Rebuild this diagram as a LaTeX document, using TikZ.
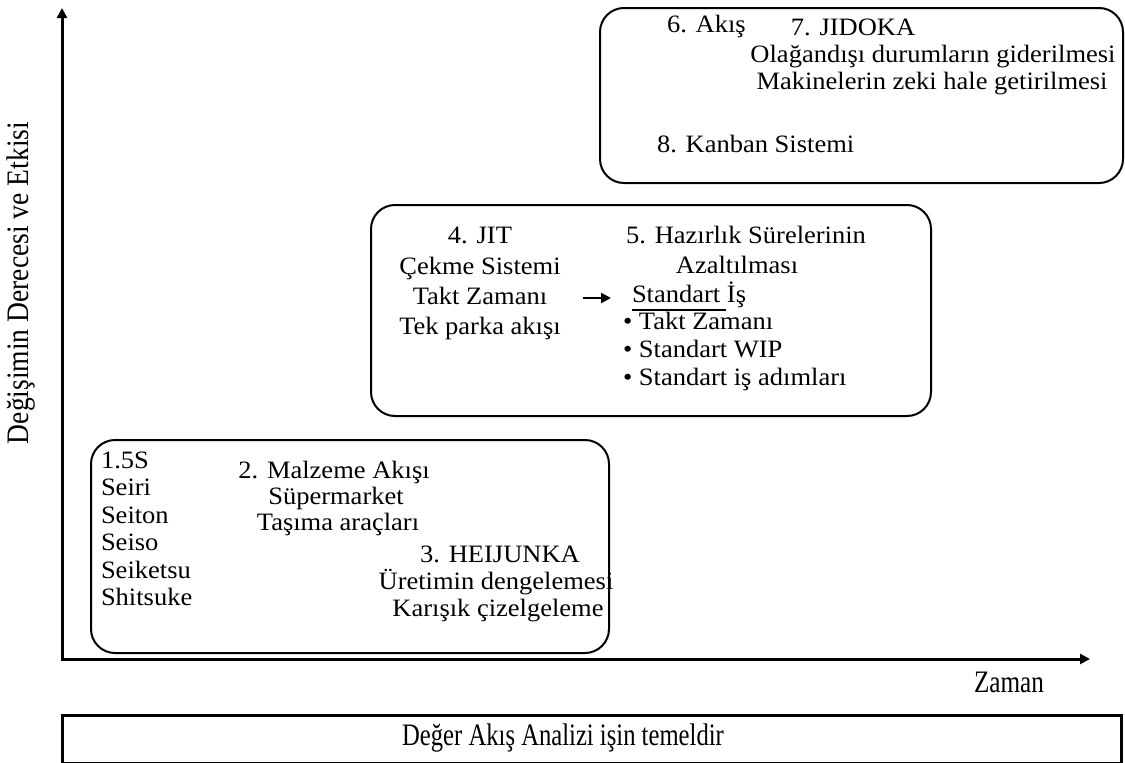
\documentclass[tikz,border=0pt]{standalone}
\usepackage{fontspec}
\setmainfont{Liberation Serif}[FakeStretch=1.06]
\usetikzlibrary{arrows.meta}
\begin{document}
\begin{tikzpicture}[x=1pt,y=-1pt,
  txt/.style={font=\fontsize{25}{29}\selectfont, inner sep=0pt, outer sep=0pt},
  lbl/.style={txt, anchor=base west},
  ctr/.style={txt, anchor=base},
  stage/.style={draw, line width=2pt, rounded corners=24pt, inner sep=0pt, anchor=north west},
  axis/.style={line width=3pt, line join=miter, {Triangle[length=10pt,width=10pt]}-{Triangle[length=10pt,width=10pt]}}]
\useasboundingbox (0,0) rectangle (1125,763);

% axes
\coordinate (ytip) at (62,8);
\coordinate (orig) at (62,659);
\coordinate (xtip) at (1090,659);
\draw[axis] (ytip) -- (orig) -- (xtip);
\node[txt, rotate=90, anchor=center] (ylab) at (21,283) {\scalebox{1.04}[1.25]{Değişimin Derecesi ve Etkisi}};
\node[ctr] (xlab) at (1009,692) {\scalebox{0.95}[1.25]{Zaman}};

% stage 1
\node[stage, minimum width=518pt, minimum height=213pt] (b1) at (90,439) {};
\node[lbl] (s0) at (101,468) {1.5S};
\node[lbl] (s1) at (101,495) {Seiri};
\node[lbl] (s2) at (101,523) {Seiton};
\node[lbl] (s3) at (101,550) {Seiso};
\node[lbl] (s4) at (101,578) {Seiketsu};
\node[lbl] (s5) at (101,605) {Shitsuke};
\node[ctr] (m0) at (334,478) {2. Malzeme Akışı};
\node[ctr] (m1) at (336,504) {Süpermarket};
\node[ctr] (m2) at (338,530) {Taşıma araçları};
\node[ctr] (h0) at (500,562) {3. HEIJUNKA};
\node[ctr] (h1) at (496,589) {Üretimin dengelemesi};
\node[ctr] (h2) at (498,616) {Karışık çizelgeleme};

% stage 2
\node[stage, minimum width=560pt, minimum height=211pt] (b2) at (370,204) {};
\node[ctr] (j0) at (480,243) {4. JIT};
\node[ctr] (j1) at (480,274) {Çekme Sistemi};
\node[ctr] (j2) at (480,304) {Takt Zamanı};
\node[ctr] (j3) at (480,334) {Tek parka akışı};
\node[ctr] (r0) at (746,243) {5. Hazırlık Sürelerinin};
\node[ctr] (r1) at (737,273) {Azaltılması};
\node[lbl] (r2) at (632,302) {Standart İş};
\draw[line width=1.5pt] ([yshift=-8pt]r2.base west) -- ++(94,0);
\node[lbl] (r3) at (623,329) {• Takt Zamanı};
\node[lbl] (r4) at (623,357) {• Standart WIP};
\node[lbl] (r5) at (623,385) {• Standart iş adımları};
\coordinate (af) at (583,298);
\coordinate (at) at (611,298);
\draw[line width=2.5pt, -{Triangle[length=10pt,width=10pt]}] (af) -- (at);

% stage 3
\node[stage, minimum width=523pt, minimum height=175pt] (b3) at (599,7) {};
\node[lbl] (k0) at (667,32) {6. Akış};
\node[ctr] (k1) at (853,35) {7. JIDOKA};
\node[ctr] (k2) at (933,62) {Olağandışı durumların giderilmesi};
\node[ctr] (k3) at (932,89) {Makinelerin zeki hale getirilmesi};
\node[lbl] (k4) at (657,152) {8. Kanban Sistemi};

% foundation bar
\node[draw, line width=3pt, minimum width=1059pt, minimum height=48pt, inner sep=0pt, anchor=north west] (base) at (61,714) {};
\node[txt, anchor=center] (basetxt) at (563,738) {\scalebox{0.93}[1.25]{Değer Akış Analizi işin temeldir}};
\end{tikzpicture}
\end{document}
